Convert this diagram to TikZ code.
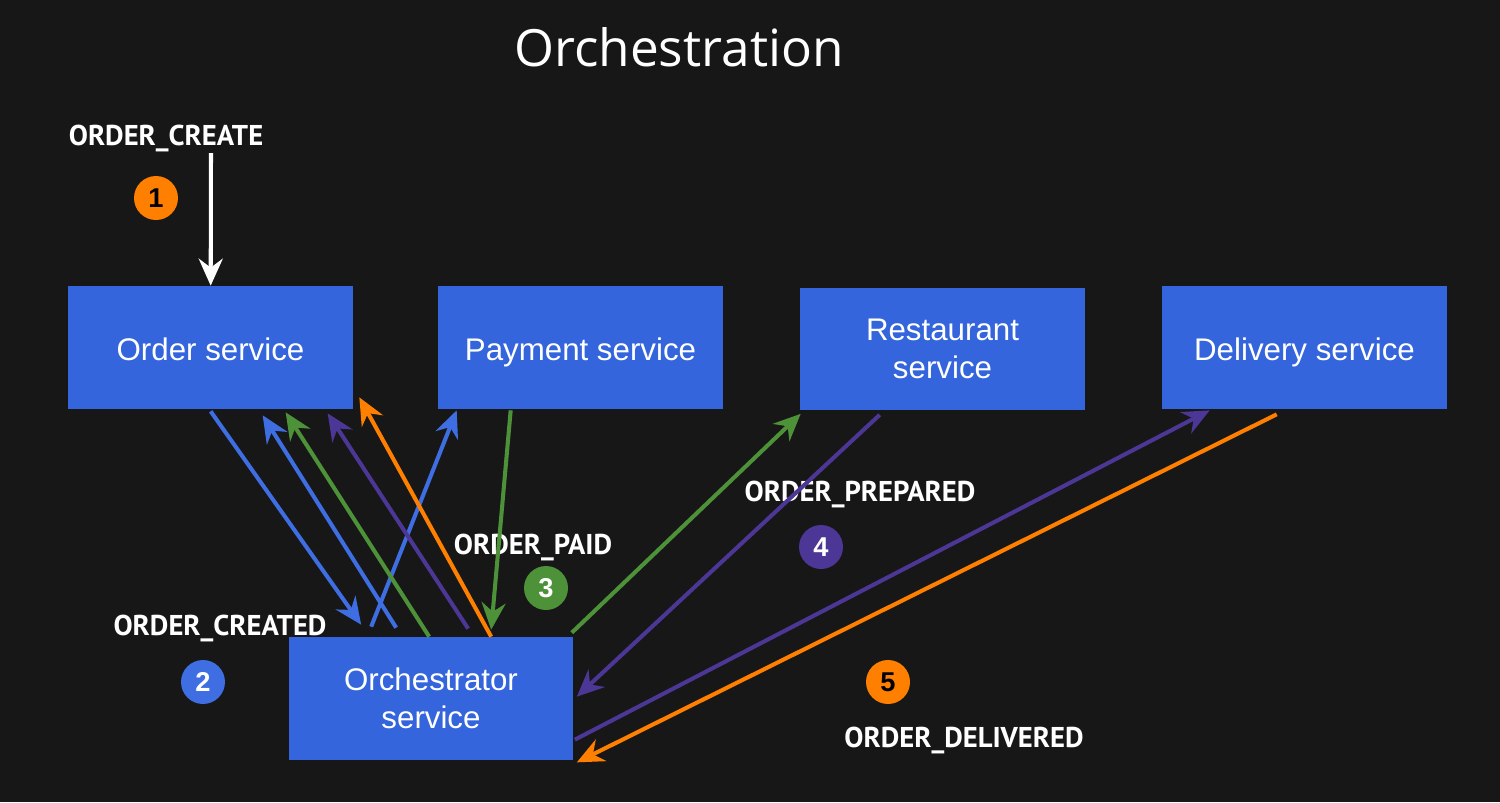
\documentclass[tikz,border=0pt]{standalone}
\usepackage{fontspec}
\setmainfont{Liberation Sans}
\newfontfamily\titlefont{Open Sans}
\newfontfamily\labelfont{PT Sans}
\usetikzlibrary{arrows.meta,calc}
\definecolor{bg}{RGB}{23,23,23}
\definecolor{boxblue}{RGB}{52,101,220}
\definecolor{ablue}{RGB}{62,110,226}
\definecolor{agreen}{RGB}{77,146,56}
\definecolor{apurple}{RGB}{76,54,150}
\definecolor{aorange}{RGB}{255,128,0}
\begin{document}
\begin{tikzpicture}[x=0.02cm,y=-0.02cm,
  svc/.style={fill=boxblue,draw=none,minimum width=5.7cm,minimum height=2.46cm,inner sep=0pt,
    text=white,align=center,font=\fontsize{17.8}{21.5}\selectfont},
  svcone/.style={svc,text height=15.2pt,text depth=0pt},
  evlabel/.style={text=white,font=\labelfont\bfseries\fontsize{16.3}{18}\selectfont,inner sep=0pt},
  stepnum/.style={circle,minimum size=0.88cm,inner sep=0pt,font=\fontsize{15.5}{17}\selectfont\bfseries},
  conn/.style={line width=2.3pt,-{Stealth[length=0.54cm,width=0.48cm,inset=0.18cm]}}]
\fill[bg] (0,0) rectangle (1500,802);
\useasboundingbox (0,0) rectangle (1500,802);

\node[text=white,font=\titlefont\fontsize{29.2}{34}\selectfont] (title) at (679,47) {Orchestration};

\node[svcone] (ord) at (210.5,347.5) {Order service};
\node[svcone] (pay) at (580.5,347.5) {Payment service};
\node[svc] (rest) at (942.5,349) {Restaurant\\service};
\node[svcone] (del) at (1304.5,347.5) {Delivery service};
\node[svc] (orch) at (431,698.5) {Orchestrator\\service};

\node[evlabel] (lcreate) at (166,138) {ORDER\_CREATE};
\node[evlabel] (lcreated) at (220,628) {ORDER\_CREATED};
\node[evlabel] (lpaid) at (533,547) {ORDER\_PAID};
\node[evlabel] (lprep) at (860,494) {ORDER\_PREPARED};
\node[evlabel] (ldel) at (964,740) {ORDER\_DELIVERED};

\node[stepnum,fill=aorange,text=black] (n1) at (156,198) {1};
\node[stepnum,fill=ablue,text=white] (n2) at (203,682) {2};
\node[stepnum,fill=agreen,text=white] (n3) at (546,588) {3};
\node[stepnum,fill=apurple,text=white] (n4) at (821,547) {4};
\node[stepnum,fill=aorange,text=black] (n5) at (888,682) {5};

\coordinate (inA) at (211,153);
% 1 external create
\draw[conn,white] (inA) -- ($(ord.north west)+(143,0)$);
% 2 order created
\draw[conn,ablue] ($(ord.south west)+(143,2)$) -- ($(orch.north west)+(73,-12)$);
\draw[conn,ablue] ($(orch.north west)+(108,-9)$) -- ($(ord.south west)+(195,6)$);
\draw[conn,ablue] ($(orch.north west)+(83,-10)$) -- ($(pay.south west)+(19,1)$);
% 3 paid
\draw[conn,agreen] ($(pay.south west)+(73,1)$) -- ($(orch.north west)+(203,-7)$);
\draw[conn,agreen] ($(orch.north west)+(141,0)$) -- ($(ord.south west)+(218,3)$);
\draw[conn,agreen] ($(orch.north east)+(-2,-4)$) -- ($(rest.south west)+(1,3)$);
% 4 prepared
\draw[conn,apurple] ($(rest.south west)+(80,4)$) -- ($(orch.north east)+(3,60)$);
\draw[conn,apurple] ($(orch.north west)+(180,-8)$) -- ($(ord.south west)+(260,4)$);
\draw[conn,apurple] ($(orch.north east)+(1,103)$) -- ($(del.south west)+(48,1)$);
% 5 delivered
\draw[conn,aorange] ($(del.south west)+(115,5)$) -- ($(orch.south east)+(3,2)$);
\draw[conn,aorange] ($(orch.north west)+(203,0)$) -- ($(ord.south east)+(6,-12)$);
\end{tikzpicture}
\end{document}
